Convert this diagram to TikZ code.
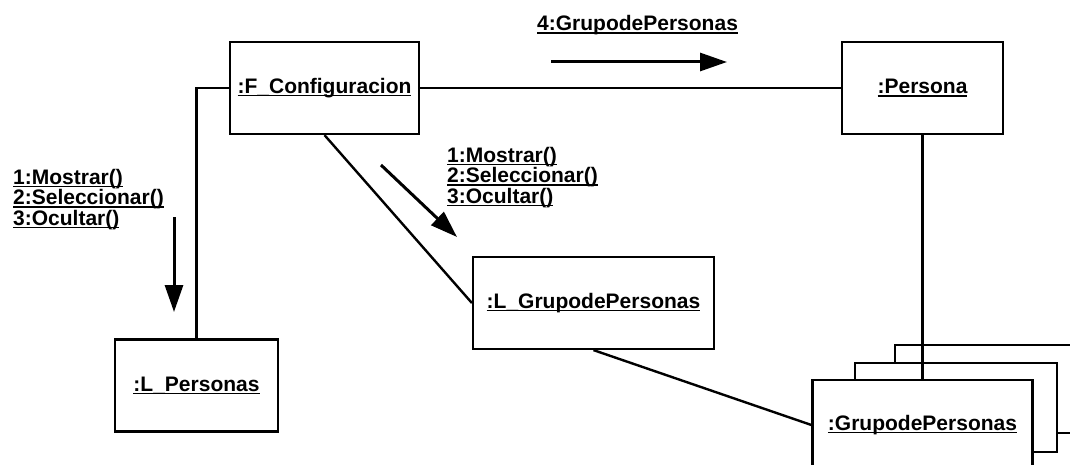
\documentclass[tikz,border=0pt]{standalone}
\usepackage{fontspec}
\setmainfont{Liberation Sans}
\usepackage{tikz}
\usetikzlibrary{arrows.meta}

\newcommand{\ulbox}[1]{\setbox0=\hbox{#1}\rlap{\rule[-3pt]{\wd0}{1.5pt}}\box0}
\newcommand{\tightlines}{\lineskiplimit-20pt\relax}

\begin{document}
\begin{tikzpicture}[x=1pt, y=-1pt, obj/.style={draw, fill=white, line width=2.2pt, minimum height=92pt, inner sep=0pt, font=\fontsize{21}{19}\selectfont\bfseries}, link/.style={line width=2.4pt}, msg/.style={line width=3pt, -{Triangle[length=27pt, width=18pt]}}, note/.style={align=left, inner sep=0pt, anchor=north west, font=\fontsize{21}{19}\selectfont\bfseries\tightlines}]
  \useasboundingbox (0, 0) rectangle (1070, 465);
  \clip (0, 0) rectangle (1070, 465);
  \node[obj, minimum width=189pt] (conf) at (324.5, 88) {\ulbox{:F\_Configuracion}};
  \node[obj, minimum width=161pt] (per) at (922.5, 88) {\ulbox{:Persona}};
  \node[obj, minimum width=163pt] (lper) at (196.5, 385.5) {\ulbox{:L\_Personas}};
  \node[obj, minimum width=241pt] (lgrp) at (593.5, 303) {\ulbox{:L\_GrupodePersonas}};
  \node[obj, minimum width=210pt, minimum height=88pt] (grpc) at (1000, 389) {};
  \node[obj, minimum width=202pt, minimum height=89pt] (grpb) at (956, 407.5) {};
  \node[obj, minimum width=220pt, minimum height=90pt] (grp) at (922.5, 425) {\ulbox{:GrupodePersonas}};
  \draw[link] (conf.west) -| (lper.north);
  \draw[link] (conf.east) -- (per.west);
  \draw[link] (conf.south) -- (lgrp.west);
  \draw[link] (lgrp.south) -- (grp.west);
  \draw[link] (per.south) -- (grp.north);
  \coordinate (m1a) at (174, 217);
  \coordinate (m1b) at (174, 312);
  \draw[msg] (m1a) -- (m1b);
  \node[note] (m1) at (13, 168.7) {\ulbox{1:Mostrar()}\\[1.5pt]\ulbox{2:Seleccionar()}\\[1.5pt]\ulbox{3:Ocultar()}};
  \coordinate (m2a) at (381, 165);
  \coordinate (m2b) at (457, 237);
  \draw[msg] (m2a) -- (m2b);
  \node[note] (m2) at (447, 146.7) {\ulbox{1:Mostrar()}\\[1.5pt]\ulbox{2:Seleccionar()}\\[1.5pt]\ulbox{3:Ocultar()}};
  \coordinate (m4a) at (551, 62);
  \coordinate (m4b) at (727, 62);
  \draw[msg] (m4a) -- (m4b);
  \node[note, anchor=base west] (m4) at (537, 31) {\ulbox{4:GrupodePersonas}};
\end{tikzpicture}
\end{document}
